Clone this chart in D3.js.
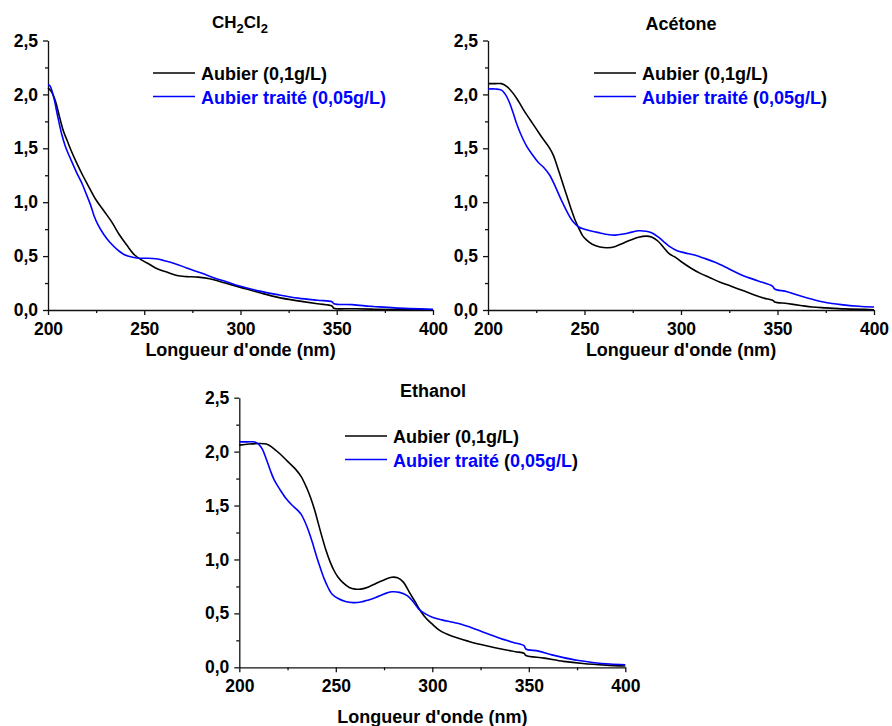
<!DOCTYPE html>
<html><head><meta charset="utf-8">
<script src="https://cdn.jsdelivr.net/npm/d3@7"></script>
<style>
body{margin:0;background:#fff;}
text{font-family:Arial,"Liberation Sans",sans-serif;font-weight:bold;}
</style></head><body>
<svg id="c" width="892" height="726"></svg>
<script>
// ---------- DATA ----------
const xTicks = [200, 250, 300, 350, 400];
const yTicks = [0, 0.5, 1.0, 1.5, 2.0, 2.5];
const legendLabels = ["Aubier (0,1g/L)", "Aubier traité (0,05g/L)"];
const panelTitles = ["CH2Cl2", "Acétone", "Ethanol"];
const xLabel = "Longueur d'onde (nm)";

const ch2cl2AubierWl = [200,202,204,206,208,210,212,215,218,221,225,229,233,237,241,245,249,253,257,262,267,272,278,284,292,300,310,320,330,340,347.5,348.5,358,368,380,400];
const ch2cl2AubierAbs = [2.06,2.02,1.93,1.79,1.66,1.57,1.48,1.36,1.25,1.15,1.02,0.92,0.82,0.70,0.60,0.51,0.46,0.42,0.38,0.35,0.32,0.31,0.305,0.29,0.25,0.21,0.16,0.115,0.085,0.058,0.037,0.017,0.012,0.008,0.005,0.002];
const ch2cl2TraiteWl = [200,201,203,205,207,209,212,215,218,220,222,224,226,229,232,236,240,244,248,252,256,260,266,272,280,286,293,300,310,320,330,340,347.5,348.5,358,367,369,380,400];
const ch2cl2TraiteAbs = [2.09,2.08,1.97,1.80,1.64,1.52,1.39,1.27,1.16,1.07,0.98,0.87,0.79,0.70,0.63,0.56,0.51,0.49,0.48,0.48,0.475,0.46,0.43,0.39,0.34,0.30,0.26,0.22,0.175,0.14,0.11,0.09,0.077,0.058,0.05,0.035,0.033,0.02,0.007];

const acetoneAubierWl = [200,204,207,210,213,216,219,222,225,228,232,234,235,237,239,241,243,245,247,249,251,254,258,262,266,270,274,278,282,285,288,291,294,297,300,305,310,315,320,326,332,338,343,347.5,348.5,355,362,368,375,385,400];
const acetoneAubierAbs = [2.10,2.10,2.10,2.07,2.01,1.93,1.84,1.76,1.68,1.60,1.50,1.43,1.38,1.27,1.16,1.05,0.94,0.84,0.76,0.69,0.65,0.61,0.585,0.578,0.59,0.62,0.65,0.675,0.685,0.675,0.64,0.58,0.52,0.49,0.45,0.39,0.34,0.30,0.26,0.22,0.18,0.14,0.11,0.09,0.075,0.06,0.042,0.028,0.02,0.01,0.003];
const acetoneTraiteWl = [200,204,207,209,211,213,215,217,220,223,226,229,232,235,238,241,244,247,250,254,258,262,266,270,274,278,282,285,288,291,294,298,302,307,312,318,325,332,340,347.5,348.5,355,362,368,375,383,392,400];
const acetoneTraiteAbs = [2.05,2.05,2.04,2.00,1.93,1.83,1.72,1.63,1.52,1.44,1.37,1.32,1.25,1.14,1.02,0.91,0.82,0.77,0.75,0.73,0.715,0.70,0.695,0.705,0.72,0.735,0.73,0.715,0.68,0.635,0.59,0.55,0.53,0.51,0.48,0.44,0.38,0.32,0.27,0.22,0.195,0.17,0.13,0.10,0.07,0.05,0.035,0.028];

const ethanolAubierWl = [200,205,210,214,217,221,225,229,232,235,237,239,241,243,245,247,249,251,254,257,260,263,267,271,275,279,282,285,288,291,294,297,300,304,310,319,328,337,343,347.5,348.5,358,368,378,390,400];
const ethanolAubierAbs = [2.06,2.07,2.075,2.07,2.04,1.98,1.91,1.84,1.77,1.66,1.57,1.46,1.33,1.20,1.08,0.98,0.90,0.84,0.78,0.74,0.725,0.725,0.745,0.78,0.81,0.835,0.83,0.79,0.70,0.61,0.52,0.45,0.40,0.34,0.29,0.24,0.20,0.165,0.145,0.13,0.11,0.085,0.055,0.035,0.02,0.012];
const ethanolTraiteWl = [200,204,208,210,212,214,216,218,221,224,227,230,232,234,236,238,240,242,244,246,248,251,255,259,263,267,271,275,279,283,287,290,293,296,300,305,310,315,320,328,335,342,347.5,348.5,355,362,368,375,383,392,400];
const ethanolTraiteAbs = [2.09,2.09,2.09,2.07,2.02,1.93,1.83,1.74,1.65,1.57,1.51,1.46,1.42,1.35,1.26,1.15,1.03,0.92,0.82,0.74,0.68,0.64,0.61,0.60,0.605,0.625,0.65,0.68,0.70,0.695,0.665,0.61,0.54,0.50,0.465,0.44,0.42,0.40,0.37,0.315,0.27,0.23,0.20,0.17,0.15,0.115,0.09,0.065,0.045,0.03,0.024];

const seriesColors = ["#000000", "#0000ff"];

// ---------- DRAW ----------
const svg = d3.select("#c");
const fmt = d => d3.format(".1f")(d).replace(".", ",");

function drawPanel(p) {
  const x = d3.scaleLinear().domain([200, 400]).range([p.left, p.right]);
  const y = d3.scaleLinear().domain([0, 2.5]).range([p.bottom, p.top]);
  const g = svg.append("g");

  // minor ticks
  g.append("g").attr("transform", `translate(0,${p.bottom})`)
    .call(d3.axisBottom(x).tickValues([225,275,325,375]).tickSize(3).tickFormat(""))
    .call(s => s.select(".domain").remove());
  g.append("g").attr("transform", `translate(${p.left},0)`)
    .call(d3.axisLeft(y).tickValues([0.25,0.75,1.25,1.75,2.25]).tickSize(3).tickFormat(""))
    .call(s => s.select(".domain").remove());

  const xa = g.append("g").attr("transform", `translate(0,${p.bottom})`)
    .call(d3.axisBottom(x).tickValues(xTicks).tickSize(5).tickPadding(7).tickSizeOuter(0).tickFormat(d3.format("d")));
  xa.selectAll("text").attr("font-size", 17.5).attr("fill", "#000").attr("dy", "0.72em");
  const ya = g.append("g").attr("transform", `translate(${p.left},0)`)
    .call(d3.axisLeft(y).tickValues(yTicks).tickSize(5).tickPadding(5).tickSizeOuter(0).tickFormat(fmt));
  ya.selectAll("text").attr("font-size", 17.5).attr("fill", "#000");
  g.selectAll(".domain, .tick line").attr("stroke", "#111").attr("stroke-width", 1.3);

  // lines
  const line = d3.line().x(d => x(d[0])).y(d => y(d[1])).curve(d3.curveCatmullRom.alpha(0.5));
  p.series.forEach((s, i) => {
    const pts = s.wl.map((w, j) => [w, s.abs[j]]);
    g.append("path").datum(pts).attr("d", line)
      .attr("fill", "none").attr("stroke", seriesColors[i]).attr("stroke-width", 1.6);
  });

  // title
  const t = g.append("text").attr("x", p.titleX).attr("y", p.titleY)
    .attr("text-anchor", "middle").attr("font-size", p.titleSize || 18).attr("fill", "#000");
  if (p.subscriptTitle) {
    t.append("tspan").text("CH");
    t.append("tspan").text("2").attr("font-size", 13).attr("dy", 5);
    t.append("tspan").text("Cl").attr("dy", -5);
    t.append("tspan").text("2").attr("font-size", 13).attr("dy", 5);
  } else {
    t.text(p.title);
  }

  // axis label
  g.append("text").attr("x", (p.left + p.right) / 2).attr("y", p.xLabelY)
    .attr("text-anchor", "middle").attr("font-size", 18).attr("fill", "#000").text(xLabel);

  // legend
  const ly = [p.legY, p.legY + 23.5];
  [0, 1].forEach(i => {
    g.append("line").attr("x1", p.legX).attr("x2", p.legX + 42)
      .attr("y1", ly[i]).attr("y2", ly[i])
      .attr("stroke", seriesColors[i]).attr("stroke-width", 1.6);
    const lt = g.append("text").attr("x", p.legX + 48).attr("y", ly[i] + 7)
      .attr("font-size", 18).attr("fill", seriesColors[i]);
    if (i === 1 && p.mixedLegend) {
      lt.append("tspan").text("Aubier traité ");
      lt.append("tspan").text("(").attr("fill", "#000");
      lt.append("tspan").text("0,05g/L");
      lt.append("tspan").text(")").attr("fill", "#000");
    } else {
      lt.text(legendLabels[i]);
    }
  });
}

drawPanel({left: 48, right: 433, top: 40.5, bottom: 310, titleX: 240, titleY: 28, subscriptTitle: true, titleSize: 17,
  xLabelY: 356, legX: 153, legY: 73, mixedLegend: false,
  series: [{wl: ch2cl2AubierWl, abs: ch2cl2AubierAbs}, {wl: ch2cl2TraiteWl, abs: ch2cl2TraiteAbs}]});
drawPanel({left: 488, right: 874, top: 40.5, bottom: 310, titleX: 681, titleY: 30, title: panelTitles[1],
  xLabelY: 356, legX: 594, legY: 73, mixedLegend: true,
  series: [{wl: acetoneAubierWl, abs: acetoneAubierAbs}, {wl: acetoneTraiteWl, abs: acetoneTraiteAbs}]});
drawPanel({left: 239.3, right: 625.3, top: 397.7, bottom: 667.3, titleX: 433, titleY: 396.5, title: panelTitles[2],
  xLabelY: 722.5, legX: 345, legY: 436, mixedLegend: true,
  series: [{wl: ethanolAubierWl, abs: ethanolAubierAbs}, {wl: ethanolTraiteWl, abs: ethanolTraiteAbs}]});
</script></body></html>
